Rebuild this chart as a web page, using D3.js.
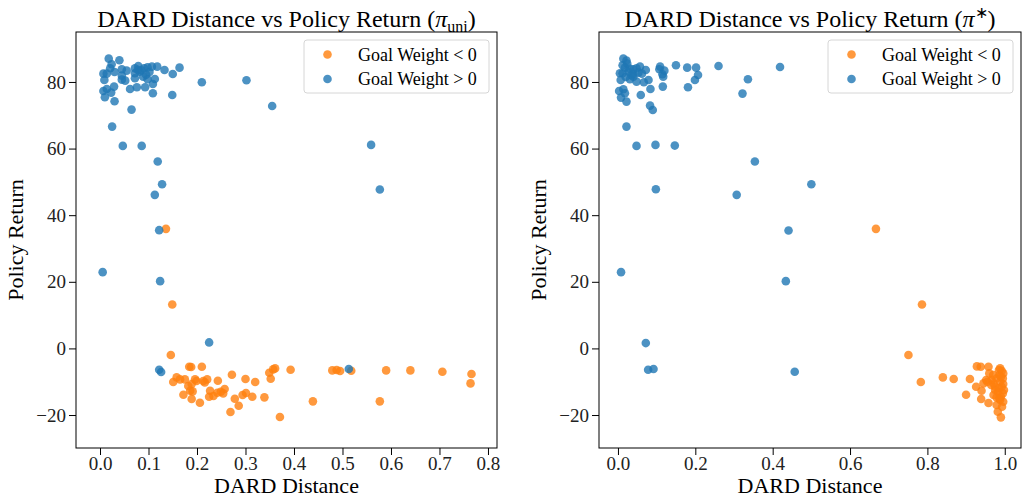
<!DOCTYPE html>
<html>
<head>
<meta charset="utf-8">
<script src="https://cdn.jsdelivr.net/npm/d3@7"></script>
<style>
  body { margin: 0; background: #fff; }
  svg { display: block; font-family: "Liberation Serif", "Times New Roman", serif; }
  .axis path, .axis line { stroke: #000; stroke-width: 1; }
  .axis text { font-size: 19px; fill: #222; font-family: "Liberation Serif", serif; }
</style>
</head>
<body>
<div id="chart"></div>
<script>
// points: [DARD distance, policy return]
var uniNeg = [
  [0.136,35.9],[0.149,13.2],[0.146,-2.0],[0.184,-5.5],[0.188,-5.6],[0.210,-5.5],[0.272,-7.9],
  [0.300,-9.2],[0.320,-10.1],[0.349,-7.3],[0.357,-6.3],[0.361,-6.0],[0.352,-9.1],[0.393,-6.4],
  [0.439,-15.9],[0.371,-20.6],[0.269,-19.1],[0.286,-17.2],[0.278,-15.1],[0.294,-14.0],[0.301,-13.4],
  [0.314,-14.5],[0.339,-14.7],[0.158,-8.7],[0.151,-10.1],[0.165,-9.3],[0.175,-9.3],[0.196,-9.3],
  [0.199,-9.8],[0.213,-9.8],[0.221,-9.3],[0.216,-10.2],[0.243,-9.7],[0.182,-11.3],[0.189,-10.7],
  [0.186,-12.7],[0.191,-12.9],[0.172,-13.9],[0.189,-15.2],[0.206,-16.3],[0.227,-12.7],[0.225,-14.5],
  [0.234,-14.3],[0.242,-13.3],[0.249,-13.0],[0.257,-12.2],[0.254,-13.5],[0.479,-6.6],[0.488,-6.5],
  [0.495,-6.8],[0.518,-6.7],[0.590,-6.6],[0.640,-6.6],[0.706,-7.0],[0.766,-7.7],[0.764,-10.5],
  [0.577,-15.9]
];
var uniPos = [
  [0.018,87.0],[0.040,86.5],[0.024,85.3],[0.021,84.1],[0.007,82.5],[0.014,82.5],[0.009,80.6],
  [0.030,83.0],[0.045,83.8],[0.045,81.9],[0.055,83.4],[0.045,80.7],[0.052,80.4],[0.072,84.1],
  [0.079,84.8],[0.072,82.6],[0.082,83.1],[0.091,84.1],[0.098,84.4],[0.107,84.6],[0.118,84.6],
  [0.133,83.6],[0.164,84.3],[0.150,82.4],[0.072,81.1],[0.089,81.6],[0.098,80.8],[0.113,80.9],
  [0.109,79.4],[0.210,79.9],[0.007,77.3],[0.014,77.9],[0.023,76.8],[0.029,78.6],[0.010,75.4],
  [0.030,74.2],[0.062,77.9],[0.076,78.4],[0.093,78.4],[0.109,76.6],[0.149,76.1],[0.065,71.7],
  [0.025,66.6],[0.047,60.8],[0.086,60.8],[0.302,80.5],[0.355,72.8],[0.559,61.1],[0.577,47.7],
  [0.119,56.1],[0.128,49.3],[0.113,46.1],[0.122,35.5],[0.0055,22.9],[0.124,20.2],[0.225,1.8],
  [0.122,-6.4],[0.126,-7.1],[0.513,-6.2],[0.085,83.5],[0.095,82.2],[0.102,83.0],[0.078,83.6]
];
var starNeg = [
  [0.667,35.9],[0.786,13.2],[0.751,-2.0],[0.783,-10.1],[0.840,-8.7],[0.868,-9.2],[0.910,-9.2],
  [0.928,-5.4],[0.938,-5.5],[0.958,-5.5],[0.988,-6.0],[0.992,-6.7],[0.996,-7.5],[0.986,-8.0],
  [0.979,-9.0],[0.966,-9.5],[0.952,-9.5],[0.945,-10.5],[0.926,-11.5],[0.940,-12.7],[0.971,-10.5],
  [0.988,-10.0],[0.996,-10.7],[0.900,-13.9],[0.939,-15.2],[0.975,-12.5],[0.971,-14.0],[0.979,-14.7],
  [0.988,-15.5],[0.996,-16.0],[0.958,-16.4],[0.979,-17.0],[0.982,-19.0],[0.990,-20.7],[0.983,-13.0],
  [0.992,-11.5],[0.985,-6.5],[0.995,-9.0],[0.990,-8.5],[0.975,-11.5],[0.985,-12.0],[0.995,-13.5],
  [0.990,-14.5],[0.965,-11.0],[0.955,-10.0],[0.998,-12.5],[0.993,-17.5],[0.986,-15.0],[0.970,-8.0],
  [0.960,-7.5]
];
var starPos = [
  [0.014,87.0],[0.022,86.4],[0.024,85.5],[0.012,85.0],[0.018,84.3],[0.040,83.8],[0.048,84.1],
  [0.057,84.6],[0.072,83.6],[0.005,82.6],[0.012,82.6],[0.027,83.1],[0.040,82.4],[0.053,82.8],
  [0.007,80.6],[0.031,80.8],[0.040,81.6],[0.048,80.1],[0.067,79.9],[0.079,80.6],[0.109,84.6],
  [0.107,83.8],[0.120,83.4],[0.115,82.3],[0.117,81.6],[0.150,85.0],[0.179,84.3],[0.202,84.3],
  [0.207,82.1],[0.199,80.6],[0.260,84.8],[0.336,80.8],[0.322,76.5],[0.181,78.4],[0.116,78.6],
  [0.084,77.9],[0.003,77.3],[0.014,77.8],[0.018,76.6],[0.008,75.3],[0.022,74.1],[0.059,76.1],
  [0.083,72.9],[0.090,71.6],[0.022,66.6],[0.048,60.8],[0.097,61.1],[0.147,60.9],[0.419,84.5],
  [0.354,56.1],[0.500,49.3],[0.098,47.8],[0.307,46.1],[0.441,35.4],[0.008,22.9],[0.434,20.2],
  [0.072,1.6],[0.078,-6.4],[0.092,-6.2],[0.457,-7.0],[0.030,84.0],[0.035,82.0],[0.020,81.5],
  [0.062,82.5]
];

var yTicks = [-20, 0, 20, 40, 60, 80];
var uniXTicks = [0, 0.1, 0.2, 0.3, 0.4, 0.5, 0.6, 0.7, 0.8];
var starXTicks = [0, 0.2, 0.4, 0.6, 0.8, 1.0];
var legendLabels = ["Goal Weight < 0", "Goal Weight > 0"];

var ORANGE = "#ff7f0e", BLUE = "#1f77b4";
var width = 1024, height = 498;
var plotTop = 32, plotBottom = 448;

var svg = d3.select("#chart").append("svg")
    .attr("width", width)
    .attr("height", height);

var yScale = d3.scaleLinear()
    .domain([-29.9, 95.0])
    .range([plotBottom, plotTop]);

function panel(left, right, xDomain, xTicks, negData, posData, titleSup, titleSub) {
  var xScale = d3.scaleLinear()
      .domain(xDomain)
      .range([left, right]);

  var g = svg.append("g");

  // points: negative goal weights first, positive on top
  g.selectAll(".neg")
    .data(negData)
    .enter().append("circle")
    .attr("class", "neg")
    .attr("cx", function(d) { return xScale(d[0]); })
    .attr("cy", function(d) { return yScale(d[1]); })
    .attr("r", 4.3)
    .style("fill", ORANGE)
    .style("fill-opacity", 0.8);

  g.selectAll(".pos")
    .data(posData)
    .enter().append("circle")
    .attr("class", "pos")
    .attr("cx", function(d) { return xScale(d[0]); })
    .attr("cy", function(d) { return yScale(d[1]); })
    .attr("r", 4.3)
    .style("fill", BLUE)
    .style("fill-opacity", 0.8);

  // frame
  g.append("rect")
    .attr("x", left)
    .attr("y", plotTop)
    .attr("width", right - left)
    .attr("height", plotBottom - plotTop)
    .style("fill", "none")
    .style("stroke", "#000")
    .style("stroke-width", 1);

  g.append("g")
    .attr("class", "axis")
    .attr("transform", "translate(0," + plotBottom + ")")
    .call(d3.axisBottom(xScale).tickValues(xTicks).tickFormat(d3.format(".1f"))
      .tickSize(7).tickPadding(2).tickSizeOuter(0))
    .select(".domain").remove();

  g.append("g")
    .attr("class", "axis")
    .attr("transform", "translate(" + left + ",0)")
    .call(d3.axisLeft(yScale).tickValues(yTicks).tickFormat(d3.format("d"))
      .tickSize(7).tickPadding(3).tickSizeOuter(0))
    .select(".domain").remove();

  var cx = (left + right) / 2;

  // title
  var title = g.append("text")
    .attr("x", cx)
    .attr("y", 27)
    .attr("text-anchor", "middle")
    .style("font-size", "24px");
  title.append("tspan").text("DARD Distance vs Policy Return (");
  title.append("tspan").style("font-style", "italic").text("π");
  if (titleSub) {
    title.append("tspan").attr("dy", 5).style("font-size", "16px").text(titleSub);
    title.append("tspan").attr("dy", -5).text(")");
  } else {
    title.append("tspan").attr("dy", -9).style("font-size", "16px").text(titleSup);
    title.append("tspan").attr("dy", 9).text(")");
  }

  g.append("text")
    .attr("x", cx)
    .attr("y", 493)
    .attr("text-anchor", "middle")
    .style("font-size", "22px")
    .text("DARD Distance");

  g.append("text")
    .attr("transform", "translate(" + (left - 53) + "," + ((plotTop + plotBottom) / 2) + ") rotate(-90)")
    .attr("text-anchor", "middle")
    .style("font-size", "22px")
    .text("Policy Return");

  // legend
  var lw = 185, lh = 53;
  var lx = right - 8 - lw, ly = plotTop + 8;
  var legend = g.append("g");
  legend.append("rect")
    .attr("x", lx)
    .attr("y", ly)
    .attr("width", lw)
    .attr("height", lh)
    .attr("rx", 3)
    .style("fill", "#fff")
    .style("fill-opacity", 0.8)
    .style("stroke", "#d6d6d6")
    .style("stroke-width", 1);

  var rows = legend.selectAll(".row")
    .data(legendLabels)
    .enter().append("g")
    .attr("class", "row")
    .attr("transform", function(d, i) { return "translate(" + lx + "," + (ly + 14.5 + i * 24.5) + ")"; });

  rows.append("circle")
    .attr("cx", 23.5)
    .attr("r", 4.3)
    .style("fill", function(d, i) { return i === 0 ? ORANGE : BLUE; })
    .style("fill-opacity", 0.8);

  rows.append("text")
    .attr("x", 54)
    .attr("dy", "0.35em")
    .style("font-size", "18px")
    .text(function(d) { return d; });
}

panel(76, 497, [-0.0495, 0.8186], uniXTicks, uniNeg, uniPos, null, "uni");
panel(599, 1021, [-0.049, 1.042], starXTicks, starNeg, starPos, "∗", null);
</script>
</body>
</html>
